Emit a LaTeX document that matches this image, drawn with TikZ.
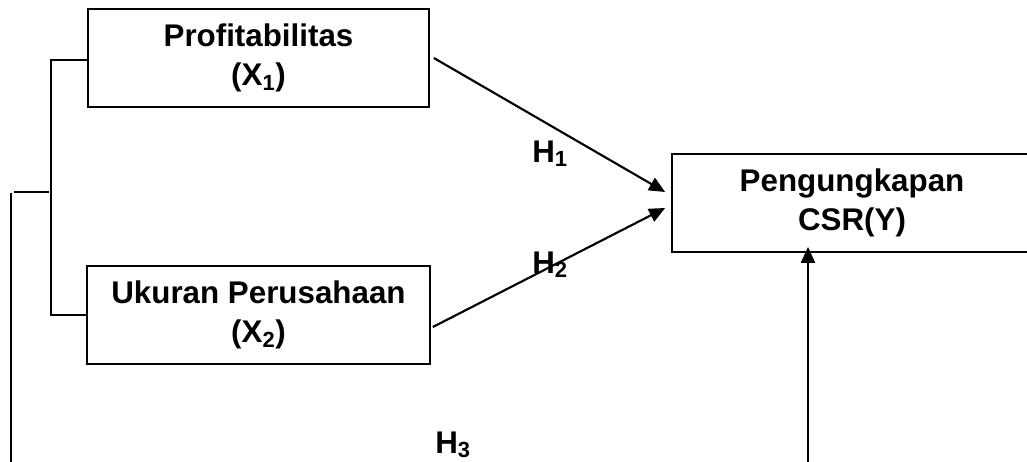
\documentclass[tikz,border=0pt]{standalone}
\usepackage{fontspec}
\setmainfont{Liberation Sans}
\usetikzlibrary{arrows.meta}
\tikzset{
  varbox/.style={draw, line width=1.3pt, rectangle, inner sep=0pt, minimum height=73.5pt,
    align=center, font=\fontsize{23.5}{29}\selectfont\bfseries},
  arr/.style={line width=1.6pt, -{Triangle[length=12pt,width=10.5pt]}},
  brk/.style={line width=1pt},
  hlab/.style={anchor=base west, inner sep=0pt, font=\fontsize{23.5}{29}\selectfont\bfseries}
}
\begin{document}
\begin{tikzpicture}[x=0.75pt,y=-0.75pt]
\useasboundingbox (0,0) rectangle (1027,461);
\clip (0,0) rectangle (1027,461);
% boxes
\node[varbox, minimum width=255.75pt] (x1) at (258.5,58) {Profitabilitas\\(X\textsubscript{1})};
\node[varbox, minimum width=257.25pt] (x2) at (258.5,315) {Ukuran Perusahaan\\(X\textsubscript{2})};
\node[varbox, minimum width=270pt] (y) at (852,203) {Pengungkapan\\CSR(Y)};
% arrow end points
\coordinate (a1s) at ([xshift=3pt]x1.east);
\coordinate (a1e) at ([xshift=-4.5pt,yshift=8.25pt]y.west);
\coordinate (a2s) at ([xshift=1.5pt,yshift=-9pt]x2.east);
\coordinate (a2e) at ([xshift=-4.5pt,yshift=-3.75pt]y.west);
\coordinate (vb) at (808,470);
\coordinate (vt) at ([yshift=4.5pt]y.south -| vb);
\draw[arr] (a1s) -- (a1e);
\draw[arr] (a2s) -- (a2e);
\draw[arr] (vb) -- (vt);
% bracket
\coordinate (b1) at (51,60);
\coordinate (b2) at (51,315);
\coordinate (m1) at (14,192);
\coordinate (m2) at (49,192);
\coordinate (l1) at (11,193);
\coordinate (l2) at (11,470);
\draw[brk] (x1.west |- b1) -- (b1) -- (b2) -- (x2.west |- b2);
\draw[brk] (m1) -- (m2);
\draw[brk] (l1) -- (l2);
% labels
\node[hlab] (h1) at (532,162) {H\textsubscript{1}};
\node[hlab] (h2) at (532,273) {H\textsubscript{2}};
\node[hlab] (h3) at (435,453) {H\textsubscript{3}};
\end{tikzpicture}
\end{document}
